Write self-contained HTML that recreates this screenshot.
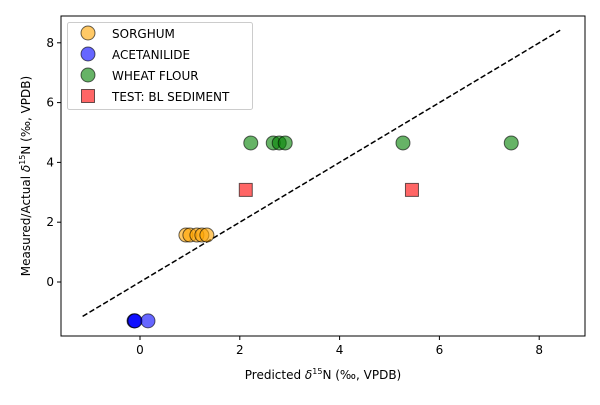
<!DOCTYPE html>
<html><head><meta charset="utf-8"><style>
body{margin:0;background:#fff}
svg text{font-family:"DejaVu Sans","Liberation Sans",sans-serif;fill:#000}
</style></head><body>
<svg id="chart" width="600" height="400" xmlns="http://www.w3.org/2000/svg">
<rect width="600" height="400" fill="#fff"/>
<g id="marks"></g>
<g id="axes"></g>
</svg>
<script>
const sorghumX=[0.92,1.0,1.14,1.24,1.34];
const sorghumY=[1.57,1.57,1.57,1.57,1.57];
const acetX=[-0.12,-0.11,-0.1,0.16];
const acetY=[-1.3,-1.3,-1.3,-1.3];
const wheatX=[2.22,2.67,2.79,2.91,5.27,7.44];
const wheatY=[4.65,4.65,4.65,4.65,4.65,4.65];
const testX=[2.12,5.45];
const testY=[3.08,3.08];
const lineX=[-1.15,8.42];
const xTicks=[0,2,4,6,8];
const yTicks=[0,2,4,6,8];

const L=61,R=585,T=16,B=336;
const xs=v=>140+v*49.9;
const ys=v=>282-v*29.9;
const NS="http://www.w3.org/2000/svg";
const marks=document.getElementById('marks'),axes=document.getElementById('axes');
function mk(t,a,p){const e=document.createElementNS(NS,t);for(const k in a)e.setAttribute(k,a[k]);p.appendChild(e);return e;}

const dl=mk('line',{x1:xs(lineX[0]),y1:ys(lineX[0]),x2:xs(lineX[1]),y2:ys(lineX[1]),stroke:'#000','stroke-width':1.5,'stroke-dasharray':'5.5,2.5'},marks);



function circles(X,Y,col,name){X.forEach((x,i)=>{const c=mk('circle',{cx:xs(x),cy:ys(Y[i]),r:7,fill:col,'fill-opacity':0.6,stroke:'#000','stroke-opacity':0.6,'stroke-width':1},marks);

});}
circles(sorghumX,sorghumY,'orange','sorghum-point');
circles(acetX,acetY,'blue','acetanilide-point');
circles(wheatX,wheatY,'green','wheat-flour-point');
testX.forEach((x,i)=>{const r=mk('rect',{x:xs(x)-6.5,y:ys(testY[i])-6.5,width:13,height:13,fill:'red','fill-opacity':0.6,stroke:'#000','stroke-opacity':0.6},marks);

});

const fr=mk('rect',{x:L,y:T,width:R-L,height:B-T,fill:'none',stroke:'#000','stroke-width':1},axes);


xTicks.forEach(v=>{mk('line',{x1:xs(v),x2:xs(v),y1:B,y2:B+4,stroke:'#000'},axes);
const t=mk('text',{x:xs(v),y:B+18,'text-anchor':'middle','font-size':12},axes);t.textContent=v;

});
yTicks.forEach(v=>{mk('line',{x1:L-4,x2:L,y1:ys(v),y2:ys(v),stroke:'#000'},axes);
const t=mk('text',{x:L-7,y:ys(v)+4,'text-anchor':'end','font-size':12},axes);t.textContent=v;

});
</script>
<svg style="position:absolute;left:0;top:0" width="600" height="400" xmlns="http://www.w3.org/2000/svg">
<text x="323" y="379" text-anchor="middle" font-size="12">Predicted <tspan font-style="italic">δ</tspan><tspan font-size="8" dy="-5">15</tspan><tspan dy="5">N (‰, VPDB)</tspan></text>
<text transform="translate(30,176) rotate(-90)" text-anchor="middle" font-size="12">Measured/Actual <tspan font-style="italic">δ</tspan><tspan font-size="8" dy="-5">15</tspan><tspan dy="5">N (‰, VPDB)</tspan></text>
<g>
<rect x="67.5" y="22.5" width="185" height="87" rx="2" fill="#fff" fill-opacity="0.8" stroke="#ccc"/>
<circle cx="88" cy="33" r="7" fill="orange" fill-opacity="0.6" stroke="#000" stroke-opacity="0.6"/>
<text x="112" y="38" font-size="12">SORGHUM</text>
<circle cx="88" cy="54" r="7" fill="blue" fill-opacity="0.6" stroke="#000" stroke-opacity="0.6"/>
<text x="112" y="59" font-size="12">ACETANILIDE</text>
<circle cx="88" cy="75" r="7" fill="green" fill-opacity="0.6" stroke="#000" stroke-opacity="0.6"/>
<text x="112" y="80" font-size="12">WHEAT FLOUR</text>
<rect x="81.5" y="89.5" width="13" height="13" fill="red" fill-opacity="0.6" stroke="#000" stroke-opacity="0.6"/>
<text x="112" y="101" font-size="12">TEST: BL SEDIMENT</text>
</g>
</svg>
</body></html>
